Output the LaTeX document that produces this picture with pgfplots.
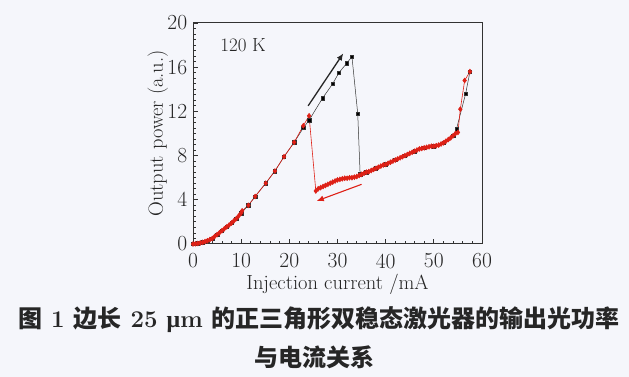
\documentclass[border=0pt]{standalone}
\usepackage{pgfplots}
\pgfplotsset{compat=1.18}
\usetikzlibrary{arrows.meta}
\usepackage{fontspec}
\newfontfamily\cjk{Noto Sans CJK SC}
\newfontfamily\libserif{Liberation Serif}
\definecolor{bg}{RGB}{245,246,251}
\definecolor{myred}{RGB}{222,32,22}
\definecolor{axgray}{RGB}{50,50,50}
\begin{document}
\begin{tikzpicture}
\path[use as bounding box, fill=bg] (0,0) rectangle (629pt,377pt);
\begin{axis}[
  at={(193pt,133pt)}, anchor=south west,
  width=289pt, height=221pt, scale only axis,
  xmin=0, xmax=60, ymin=0, ymax=20,
  xtick={0,10,...,60}, ytick={0,4,...,20},
  minor x tick num=4, minor y tick num=7,
  tick align=inside, xtick pos=left, ytick pos=left,
  major tick length=5pt, minor tick length=3pt,
  axis line style={axgray, line width=1pt},
  tick style={axgray, line width=0.8pt},
  /pgf/number format/assume math mode=true,
  tick label style={font=\fontsize{21.5}{24}\selectfont, text=black!85, inner sep=1pt},
  label style={font=\fontsize{20.5}{24}\selectfont, text=black!85},
  xticklabel style={yshift=-8.5pt},
  yticklabel style={xshift=-4.6pt},
  xlabel={Injection current /mA},
  ylabel={Output power (a.u.)},
  xlabel style={yshift=-1pt},
  ylabel style={yshift=-5pt},
  axis background/.style={fill=bg},
  clip=false,
]
% black: up sweep
\addplot[black!80, line width=0.5pt, mark=square*, mark size=1.7pt, mark options={fill=black}] coordinates {
(0,0)(1,0.05)(2,0.15)(3,0.3)(4,0.5)(5,0.85)(6,1.2)(7,1.55)(8,1.9)(9,2.3)(10,2.8)
(11.5,3.5)(12.9,4.3)(15.1,5.5)(17,6.6)(18.9,7.9)(21,9.2)(22.9,10.5)(24.1,11.2)
(26.9,13.2)(29,14.5)(30.3,15.5)(31.9,16.35)(33,16.95)(34.2,11.8)(34.7,6.3)
(36,6.5)(38,6.85)(40,7.2)(42,7.6)(44,8.0)(46,8.4)(48,8.7)(50,8.85)(52,9.15)(54,9.8)
(54.7,10.4)(56.6,13.6)(57.5,15.6)
};
% red: down sweep
\addplot[myred, line width=0.6pt, mark=diamond*, mark size=2.4pt, mark options={fill=myred}] coordinates {
(0,0)(0.5,0.02)(1,0.05)(1.5,0.1)(2,0.15)(2.5,0.22)(3,0.3)(3.5,0.4)(4,0.5)(4.5,0.68)(5,0.85)
(5.5,1.02)(6,1.2)(6.5,1.38)(7,1.55)(7.5,1.72)(8,1.9)(8.5,2.1)(9,2.3)(9.5,2.55)(10,2.8)
(10.2,3.0)(11.5,3.5)(12.9,4.3)(15.1,5.5)(17,6.6)(18.9,7.9)(21,9.2)(22.9,10.7)(24.1,11.6)
(25.5,4.8)(26,5.0)(26.5,5.1)(27,5.2)(27.5,5.3)(28,5.4)(28.5,5.5)(29,5.6)(29.5,5.7)(30,5.8)
(30.5,5.85)(31,5.9)(31.5,5.95)(32,5.95)(32.5,6.0)(33,6.0)(33.5,6.05)(34,6.1)(34.5,6.2)(35,6.3)
(35.5,6.4)(36,6.5)(36.5,6.55)(37,6.65)(37.5,6.75)(38,6.85)(38.5,6.95)(39,7.05)(39.5,7.15)(40,7.2)
(40.5,7.3)(41,7.4)(41.5,7.5)(42,7.6)(42.5,7.7)(43,7.8)(43.5,7.9)(44,8.0)(44.5,8.1)(45,8.2)
(45.5,8.3)(46,8.4)(46.5,8.5)(47,8.6)(47.5,8.65)(48,8.7)(48.5,8.75)(49,8.8)(49.5,8.85)(50,8.85)
(50.5,8.9)(51,8.95)(51.5,9.05)(52,9.15)(52.5,9.3)(53,9.45)(53.5,9.6)(54,9.8)(54.5,10.0)(55,10.1)
(55.5,12.2)(56.4,14.8)(57.5,15.6)
};
\draw[black!85, line width=1.3pt, -{Latex[length=7pt,width=6pt]}] (axis cs:23.9,12.5) -- (axis cs:31.2,17.25);
\draw[myred, line width=1.1pt, -{Latex[length=7pt,width=6pt]}] (axis cs:35,5.4) -- (axis cs:25.7,3.9);
\node[font=\fontsize{19}{22}\selectfont, text=black!85] at (axis cs:10.4,18.0) {120 K};
\end{axis}
\node[font=\fontsize{24}{27}\selectfont\bfseries, text=black!85] at (319pt,57pt)
  {{\cjk 图}~1~{\cjk 边长}~25~{\libserif\bfseries μ}m~{\cjk 的正三角形双稳态激光器的输出光功率}};
\node[font=\fontsize{24}{27}\selectfont\bfseries, text=black!85] at (314.5pt,20pt) {{\cjk 与电流关系}};
\end{tikzpicture}
\end{document}
